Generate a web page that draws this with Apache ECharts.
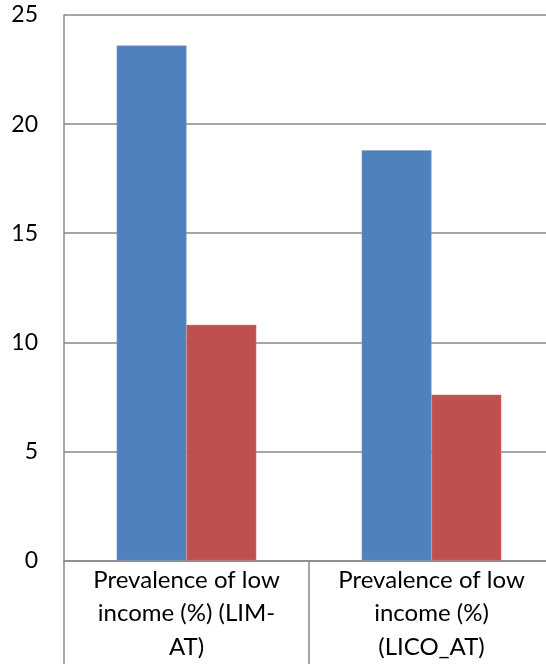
<!DOCTYPE html>
<html>
<head>
<meta charset="utf-8">
<script src="https://cdn.jsdelivr.net/npm/echarts@6/dist/echarts.min.js"></script>
<style>html,body{margin:0;padding:0;background:#fff;overflow:hidden}#c{width:554px;height:664px}</style>
</head>
<body>
<div id="c"></div>
<script>
var categories = ["Prevalence of low\nincome (%) (LIM-\nAT)", "Prevalence of low\nincome (%)\n(LICO_AT)"];
var seriesA = [23.6, 18.8];
var seriesB = [10.8, 7.6];
var yTicks = [0, 5, 10, 15, 20, 25];

var chart = echarts.init(document.getElementById('c'), null, {renderer: 'canvas'});
chart.setOption({
  animation: false,
  backgroundColor: '#ffffff',
  grid: {left: 64, top: 15, right: 0, bottom: 96, containLabel: false},
  xAxis: {
    type: 'category',
    data: categories,
    boundaryGap: true,
    axisLine: {show: true, lineStyle: {color: '#898989', width: 1.5}},
    axisTick: {show: true, length: 104, lineStyle: {color: '#898989', width: 1.5}},
    axisLabel: {color: '#000', fontFamily: 'Lato', fontSize: 24, lineHeight: 33.5, margin: 3, interval: 0}
  },
  yAxis: {
    type: 'value',
    min: yTicks[0],
    max: yTicks[yTicks.length - 1],
    interval: 5,
    axisLine: {show: true, lineStyle: {color: '#898989', width: 1.5}},
    axisTick: {show: false},
    splitLine: {show: true, lineStyle: {color: '#898989', width: 1.5}},
    axisLabel: {color: '#000', fontFamily: 'Lato', fontSize: 23, margin: 26}
  },
  series: [
    {type: 'bar', data: seriesA, barGap: '0%', barCategoryGap: '43%',
     itemStyle: {color: '#4F81BD', borderColor: '#7BA0CD', borderWidth: 0.5}},
    {type: 'bar', data: seriesB, barGap: '0%', barCategoryGap: '43%',
     itemStyle: {color: '#C0504D', borderColor: '#D0807D', borderWidth: 0.5}}
  ]
});
</script>
</body>
</html>
